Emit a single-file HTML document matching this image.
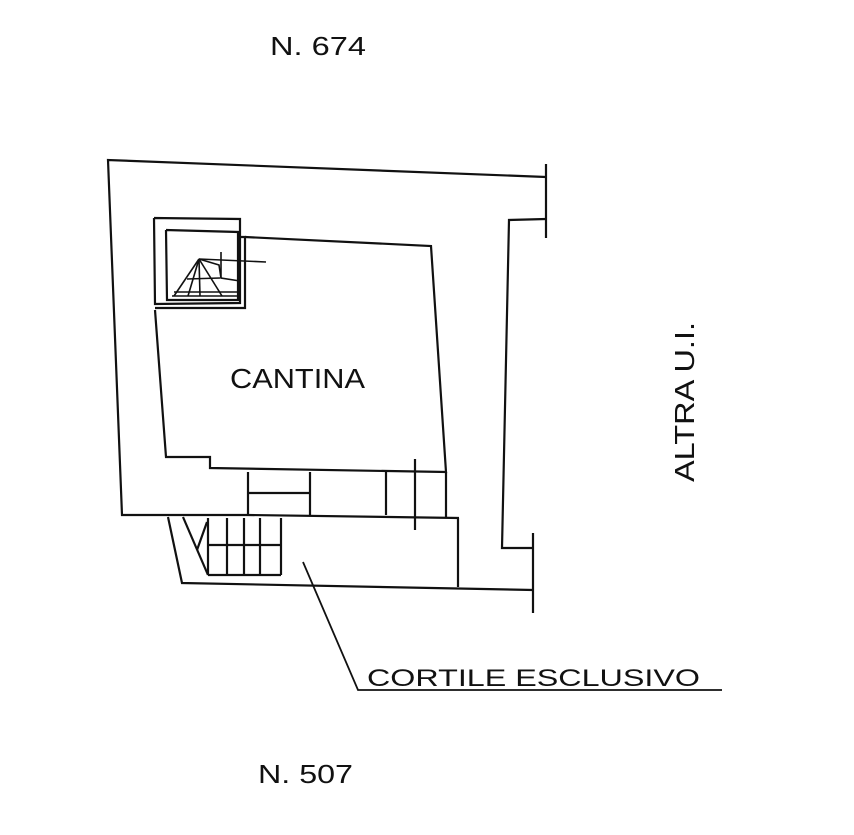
<!DOCTYPE html>
<html><head><meta charset="utf-8"><style>
html,body{margin:0;padding:0;background:#fff;}
svg{display:block;}
text{font-family:"Liberation Sans",sans-serif;fill:#111;}
</style></head><body>
<svg width="854" height="835" viewBox="0 0 854 835" xmlns="http://www.w3.org/2000/svg">
<g fill="none" stroke="#111" stroke-width="2.2" stroke-linejoin="miter">
<polyline points="546,177 108,160 122,515 248,515"/>
<line x1="546" y1="164" x2="546" y2="238"/>
<polyline points="546,219 509,220 502,548 534,548"/>
<line x1="533" y1="533" x2="533" y2="613"/>
<polyline points="245,237 431,246 446,472 210,468 210,457 166,457 155,310"/>
<polyline points="154,218 240,219 240,303 155,304 154,218"/>
<polyline points="166,230 238,232 238,300 167,300 166,230"/>
<polyline points="240,237 245,237 245,308 155,308"/>
<g stroke-width="1.6">
<line x1="172" y1="296" x2="240" y2="296"/>
<line x1="174" y1="292" x2="240" y2="292"/>
<line x1="199" y1="259" x2="266" y2="262"/>
<line x1="199" y1="259" x2="174" y2="296"/>
<line x1="199" y1="259" x2="188" y2="296"/>
<line x1="199" y1="259" x2="200" y2="296"/>
<line x1="199" y1="259" x2="222" y2="296"/>
<line x1="187" y1="279" x2="220" y2="278"/>
<polyline points="199,259 219,265 221,278 240,281"/>
<line x1="221" y1="252" x2="221" y2="278"/>
</g>
<line x1="248" y1="472" x2="248" y2="515"/>
<line x1="249" y1="493" x2="310" y2="493"/>
<line x1="310" y1="472" x2="310" y2="515"/>
<line x1="386" y1="472" x2="386" y2="515"/>
<line x1="446" y1="472" x2="446" y2="517"/>
<line x1="248" y1="515" x2="459" y2="518"/>
<line x1="415" y1="459" x2="415" y2="530"/>
<line x1="458" y1="518" x2="458" y2="587"/>
<polyline points="168,517 182,583 533,590"/>
<line x1="183" y1="517" x2="208" y2="575"/>
<line x1="197" y1="550" x2="207" y2="522"/>
<line x1="208" y1="545" x2="281" y2="545"/>
<line x1="208" y1="575" x2="281" y2="575"/>
<line x1="208" y1="518" x2="208" y2="575"/>
<line x1="227" y1="518" x2="227" y2="575"/>
<line x1="244" y1="518" x2="244" y2="575"/>
<line x1="260" y1="518" x2="260" y2="575"/>
<line x1="281" y1="518" x2="281" y2="575"/>
<polyline points="303,562 358,690 722,690" stroke-width="1.8"/>
</g>
<text x="270" y="55" font-size="26" textLength="96" lengthAdjust="spacingAndGlyphs">N. 674</text>
<text x="230" y="388" font-size="28" textLength="135" lengthAdjust="spacingAndGlyphs">CANTINA</text>
<text x="367" y="686" font-size="24" textLength="333" lengthAdjust="spacingAndGlyphs">CORTILE ESCLUSIVO</text>
<text x="258" y="783" font-size="26" textLength="95" lengthAdjust="spacingAndGlyphs">N. 507</text>
<text transform="translate(694,482) rotate(-90)" font-size="28" textLength="160" lengthAdjust="spacingAndGlyphs">ALTRA U.I.</text>
</svg>
</body></html>
